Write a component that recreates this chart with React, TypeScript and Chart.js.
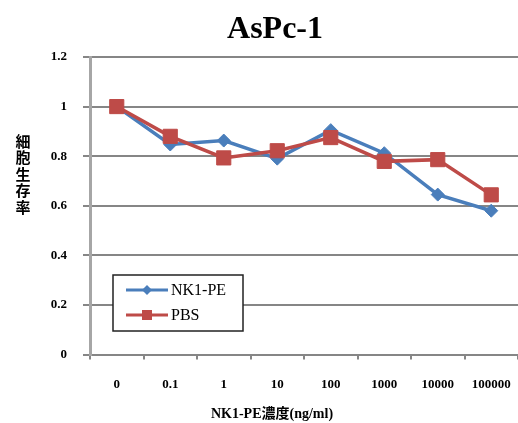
import { useEffect, useRef } from 'react';
import { Chart, registerables } from 'chart.js';

Chart.register(...registerables);

const categories = ['0', '0.1', '1', '10', '100', '1000', '10000', '100000'];
const nk1peValues = [1.0, 0.847, 0.863, 0.79, 0.905, 0.812, 0.645, 0.58];
const pbsValues = [1.0, 0.88, 0.793, 0.822, 0.875, 0.779, 0.786, 0.644];
const yTickValues = [0, 0.2, 0.4, 0.6, 0.8, 1, 1.2];
const yTickLabels = ['0', '0.2', '0.4', '0.6', '0.8', '1', '1.2'];
const seriesNames = ['NK1-PE', 'PBS'];
const chartTitle = 'AsPc-1';
const xAxisTitle = 'NK1-PE濃度(ng/ml)';
const yAxisTitle = '細胞生存率';

const BLUE = '#4A7EBB';
const RED = '#BE4B48';
const GRID = '#868686';
const SERIF = '"Liberation Serif", "Times New Roman", serif';
const CJK = '"Noto Sans CJK JP"';

const textPlugin = {
  id: 'customText',
  afterDraw(chart: any) {
    const ctx: CanvasRenderingContext2D = chart.ctx;
    const a = chart.chartArea;
    ctx.save();
    ctx.fillStyle = '#000';
    // main title
    ctx.textAlign = 'center';
    ctx.textBaseline = 'alphabetic';
    ctx.font = `bold 32px ${SERIF}`;
    ctx.fillText(chartTitle, 275, 38);
    // x axis title
    ctx.textBaseline = 'middle';
    ctx.font = `bold 14px ${SERIF}, ${CJK}`;
    ctx.fillText(xAxisTitle, 272, 414);
    // y axis title, stacked characters
    ctx.font = `bold 15px ${CJK}`;
    const chars = Array.from(yAxisTitle);
    chars.forEach((c, i) => {
      ctx.fillText(c, 23, 141 + i * 16.5);
    });

    // legend box
    const lx = a.left + 23;
    const ly = a.top + 218;
    const lw = 130;
    const lh = 56;
    ctx.fillStyle = '#fff';
    ctx.fillRect(lx, ly, lw, lh);
    ctx.strokeStyle = '#222';
    ctx.lineWidth = 1.5;
    ctx.strokeRect(lx, ly, lw, lh);

    const entries = [
      { name: seriesNames[0], color: BLUE, shape: 'diamond', y: ly + 15 },
      { name: seriesNames[1], color: RED, shape: 'square', y: ly + 40 },
    ];
    entries.forEach((e) => {
      ctx.strokeStyle = e.color;
      ctx.fillStyle = e.color;
      ctx.lineWidth = 3;
      ctx.beginPath();
      ctx.moveTo(lx + 13, e.y);
      ctx.lineTo(lx + 55, e.y);
      ctx.stroke();
      const cx = lx + 34;
      if (e.shape === 'diamond') {
        ctx.beginPath();
        ctx.moveTo(cx, e.y - 5);
        ctx.lineTo(cx + 5, e.y);
        ctx.lineTo(cx, e.y + 5);
        ctx.lineTo(cx - 5, e.y);
        ctx.closePath();
        ctx.fill();
      } else {
        ctx.fillRect(cx - 5, e.y - 5, 10, 10);
      }
      ctx.fillStyle = '#000';
      ctx.textAlign = 'left';
      ctx.textBaseline = 'middle';
      ctx.font = `16px ${SERIF}`;
      ctx.fillText(e.name, lx + 58, e.y + 1);
    });
    ctx.restore();
  },
};

export default function App() {
  const ref = useRef<HTMLCanvasElement | null>(null);

  useEffect(() => {
    if (!ref.current) return;
    const chart = new Chart(ref.current, {
      type: 'line',
      data: {
        labels: categories,
        datasets: [
          {
            label: seriesNames[0],
            data: nk1peValues,
            borderColor: BLUE,
            backgroundColor: BLUE,
            borderWidth: 3.5,
            pointStyle: 'rectRot',
            pointRadius: 6.5,
            pointBorderWidth: 1,
            pointBackgroundColor: BLUE,
            pointBorderColor: BLUE,
            tension: 0,
            order: 1,
          },
          {
            label: seriesNames[1],
            data: pbsValues,
            borderColor: RED,
            backgroundColor: RED,
            borderWidth: 3.5,
            pointStyle: 'rect',
            pointRadius: 10,
            pointBorderWidth: 1,
            pointBackgroundColor: RED,
            pointBorderColor: RED,
            tension: 0,
            order: 0,
          },
        ],
      },
      options: {
        animation: false,
        responsive: true,
        maintainAspectRatio: false,
        layout: { autoPadding: false, padding: { top: 57, left: 0, right: 0, bottom: 0 } },
        plugins: {
          legend: { display: false },
          title: { display: false },
          tooltip: { enabled: false },
        },
        scales: {
          x: {
            type: 'category',
            offset: true,
            afterFit: (s: any) => {
              s.height = 68.5;
              s.paddingLeft = 0;
              s.paddingRight = 0;
            },
            grid: {
              display: true,
              drawOnChartArea: false,
              drawTicks: true,
              tickLength: 5,
              offset: true,
              color: GRID,
              lineWidth: 2,
            },
            border: { display: true, color: GRID, width: 2 },
            ticks: {
              color: '#000',
              font: { family: SERIF, size: 13, weight: 'bold', lineHeight: 3.8 },
              padding: 0,
              maxRotation: 0,
              autoSkip: false,
            },
          },
          y: {
            min: 0,
            max: 1.2,
            afterFit: (s: any) => {
              s.width = 90;
            },
            afterBuildTicks: (s: any) => {
              s.ticks = yTickValues.map((v) => ({ value: v }));
            },
            grid: {
              color: GRID,
              lineWidth: 2,
              tickLength: 7,
              drawTicks: true,
            },
            border: { display: true, color: '#A6A6A6', width: 3 },
            ticks: {
              color: '#000',
              font: { family: SERIF, size: 13, weight: 'bold' },
              padding: 16,
              callback: (_v: any, i: number) => yTickLabels[i],
            },
          },
        },
      },
      plugins: [textPlugin],
    });
    return () => chart.destroy();
  }, []);

  return (
    <div style={{ position: 'fixed', left: 0, top: 0, width: 518, height: 423, background: '#fff' }}>
      <canvas ref={ref} />
    </div>
  );
}
